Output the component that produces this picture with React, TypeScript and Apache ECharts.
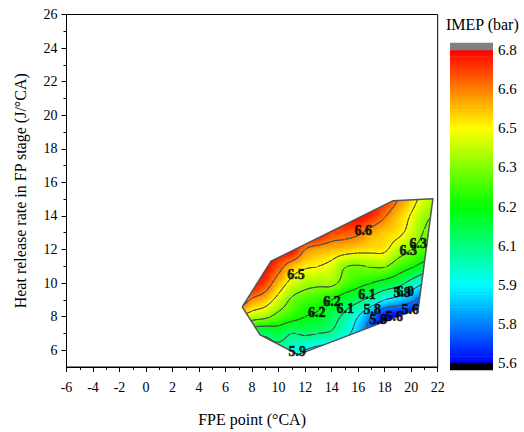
import React, { useEffect, useRef } from "react";
import * as echarts from "echarts";

// ---- measured grid (FPE point x, HRR y) ----
const gridX = [7, 8, 9, 10, 11, 12, 13, 14, 15, 16, 17, 18, 19, 20, 21, 22];
const gridY = [5, 6, 7, 8, 9, 10, 11, 12, 13, 14, 15];
const imepY5 = [6.0, 5.98, 5.96, 5.94, 5.92, 5.86, 5.82, 5.8, 5.75, 5.68, 5.62, 5.6, 5.6, 5.6, 5.6, 5.6];
const imepY6 = [6.1, 6.02, 6.0, 6.0, 5.96, 5.9, 5.86, 5.83, 5.78, 5.7, 5.64, 5.6, 5.6, 5.6, 5.6, 5.6];
const imepY7 = [6.3, 6.1, 6.08, 6.12, 6.05, 6.07, 6.05, 6.03, 5.95, 5.82, 5.68, 5.6, 5.6, 5.6, 5.6, 5.6];
const imepY8 = [6.5, 6.42, 6.38, 6.3, 6.25, 6.2, 6.17, 6.1, 6.02, 5.9, 5.75, 5.62, 5.6, 5.6, 5.6, 5.6];
const imepY9 = [6.75, 6.63, 6.57, 6.45, 6.33, 6.28, 6.25, 6.2, 6.13, 6.08, 6.0, 5.9, 5.85, 5.78, 5.68, 5.62];
const imepY10 = [6.8, 6.8, 6.72, 6.58, 6.46, 6.4, 6.38, 6.38, 6.3, 6.24, 6.2, 6.15, 6.1, 6.0, 5.9, 5.85];
const imepY11 = [6.8, 6.8, 6.8, 6.7, 6.58, 6.52, 6.5, 6.46, 6.36, 6.34, 6.36, 6.36, 6.28, 6.22, 6.15, 6.1];
const imepY12 = [6.8, 6.8, 6.8, 6.8, 6.8, 6.65, 6.6, 6.58, 6.56, 6.54, 6.53, 6.52, 6.42, 6.35, 6.28, 6.22];
const imepY13 = [6.8, 6.8, 6.8, 6.8, 6.8, 6.8, 6.8, 6.72, 6.7, 6.67, 6.6, 6.56, 6.53, 6.45, 6.34, 6.3];
const imepY14 = [6.8, 6.8, 6.8, 6.8, 6.8, 6.8, 6.8, 6.8, 6.8, 6.8, 6.75, 6.66, 6.57, 6.49, 6.38, 6.34];
const imepY15 = [6.8, 6.8, 6.8, 6.8, 6.8, 6.8, 6.8, 6.8, 6.8, 6.8, 6.8, 6.75, 6.65, 6.55, 6.45, 6.4];
const imepRows = [imepY5, imepY6, imepY7, imepY8, imepY9, imepY10, imepY11, imepY12, imepY13, imepY14, imepY15];

// measured domain (convex hull of operating points)
const hullX = [7.25, 9.43, 18.64, 21.64, 20.53, 11.47, 8.6];
const hullY = [8.58, 11.3, 14.91, 15.03, 8.46, 5.74, 6.92];

// contour levels and labels
const contourLevels = [5.75, 5.9, 6.05, 6.2, 6.35, 6.5, 6.65];
const labelText = ["6.6", "6.5", "6.3", "6.3", "6.2", "6.2", "6.1", "6.1", "5.9", "6.0", "5.8", "5.6", "5.8", "5.6", "5.9"];
const labelX = [16.38, 11.32, 19.77, 20.53, 12.88, 14.02, 15.02, 16.66, 19.32, 19.55, 17.06, 19.92, 17.51, 18.72, 11.4];
const labelY = [13.14, 10.53, 11.95, 12.37, 8.22, 8.92, 8.49, 9.29, 9.41, 9.47, 8.4, 8.43, 7.81, 7.99, 5.92];

// colour scale
const barTicks = [5.6, 5.75, 5.9, 6.05, 6.2, 6.35, 6.5, 6.65, 6.8];
const barTickLabels = ["5.6", "5.8", "5.9", "6.1", "6.2", "6.3", "6.5", "6.6", "6.8"];
const IMEP_MIN = 5.6;
const IMEP_MAX = 6.8;
const N_BANDS = 96;

const yMajor = [6, 8, 10, 12, 14, 16, 18, 20, 22, 24, 26];
const yMinor = [7, 9, 11, 13, 15, 17, 19, 21, 23, 25];

const FONT = "'Liberation Serif', 'Times New Roman', serif";

function rainbow(f: number): string {
  f = Math.max(0, Math.min(1, f));
  const stops = [
    [0, 0, 255],
    [0, 255, 255],
    [0, 255, 0],
    [255, 255, 0],
    [255, 0, 0],
  ];
  const s = f * 4;
  const k = Math.min(3, Math.floor(s));
  const t = s - k;
  const a = stops[k], b = stops[k + 1];
  const c = a.map((v, i) => Math.round(v + (b[i] - v) * t));
  return `rgb(${c[0]},${c[1]},${c[2]})`;
}
const bandColors: string[] = [];
for (let b = 0; b < N_BANDS; b++) bandColors.push(rainbow((b + 0.5) / N_BANDS));
function bandOf(v: number) {
  let b = Math.floor(((v - IMEP_MIN) / (IMEP_MAX - IMEP_MIN)) * N_BANDS);
  return Math.max(0, Math.min(N_BANDS - 1, b));
}

function cr(p0: number, p1: number, p2: number, p3: number, t: number) {
  return 0.5 * (2 * p1 + (-p0 + p2) * t + (2 * p0 - 5 * p1 + 4 * p2 - p3) * t * t + (-p0 + 3 * p1 - 3 * p2 + p3) * t * t * t);
}
function field(x: number, y: number) {
  const nx = gridX.length, ny = gridY.length;
  const fx = (x - gridX[0]) / (gridX[1] - gridX[0]);
  const fy = (y - gridY[0]) / (gridY[1] - gridY[0]);
  const i = Math.max(0, Math.min(nx - 2, Math.floor(fx)));
  const j = Math.max(0, Math.min(ny - 2, Math.floor(fy)));
  const tx = fx - i, ty = fy - j;
  const g = (a: number, b: number) => imepRows[Math.max(0, Math.min(ny - 1, b))][Math.max(0, Math.min(nx - 1, a))];
  const r: number[] = [];
  for (let m = -1; m <= 2; m++) r.push(cr(g(i - 1, j + m), g(i, j + m), g(i + 1, j + m), g(i + 2, j + m), tx));
  return cr(r[0], r[1], r[2], r[3], ty);
}

function signedArea(P: number[][]) {
  let s = 0;
  for (let i = 0; i < P.length; i++) {
    const a = P[i], b = P[(i + 1) % P.length];
    s += a[0] * b[1] - b[0] * a[1];
  }
  return s / 2;
}
function clipConvex(subject: number[][], clip: number[][], orient: number) {
  let out = subject;
  for (let e = 0; e < clip.length; e++) {
    const A = clip[e], B = clip[(e + 1) % clip.length];
    const inp = out;
    out = [];
    if (!inp.length) break;
    const side = (P: number[]) => orient * ((B[0] - A[0]) * (P[1] - A[1]) - (B[1] - A[1]) * (P[0] - A[0]));
    for (let k = 0; k < inp.length; k++) {
      const P = inp[k], Q = inp[(k + 1) % inp.length];
      const sp = side(P), sq = side(Q);
      if (sp >= 0) out.push(P);
      if ((sp >= 0) !== (sq >= 0)) {
        const t = sp / (sp - sq);
        out.push([P[0] + (Q[0] - P[0]) * t, P[1] + (Q[1] - P[1]) * t]);
      }
    }
  }
  return out;
}
function insideConvex(P: number[], clip: number[][], orient: number) {
  for (let e = 0; e < clip.length; e++) {
    const A = clip[e], B = clip[(e + 1) % clip.length];
    if (orient * ((B[0] - A[0]) * (P[1] - A[1]) - (B[1] - A[1]) * (P[0] - A[0])) < 0) return false;
  }
  return true;
}

const hMinX = Math.min(...hullX), hMaxX = Math.max(...hullX);
const hMinY = Math.min(...hullY), hMaxY = Math.max(...hullY);

const cellData: number[][] = [];
for (let j = 0; j < gridY.length - 1; j++)
  for (let i = 0; i < gridX.length - 1; i++) cellData.push([gridX[i], gridY[j], gridX[i + 1], gridY[j + 1]]);

function renderCell(params: any, api: any) {
  const x0 = api.value(0), y0 = api.value(1), x1 = api.value(2), y1 = api.value(3);
  if (x1 < hMinX || x0 > hMaxX || y1 < hMinY || y0 > hMaxY) return { type: "group", children: [] };
  const hullPx = hullX.map((hx, k) => api.coord([hx, hullY[k]]));
  const orient = Math.sign(signedArea(hullPx));
  const N = 10;
  const vals: number[][] = [];
  for (let a = 0; a <= N; a++) {
    const col: number[] = [];
    for (let b = 0; b <= N; b++) col.push(field(x0 + ((x1 - x0) * a) / N, y0 + ((y1 - y0) * b) / N));
    vals.push(col);
  }
  const p0 = api.coord([x0, y0]), p1 = api.coord([x1, y1]);
  const px = (a: number) => p0[0] + ((p1[0] - p0[0]) * a) / N;
  const py = (b: number) => p0[1] + ((p1[1] - p0[1]) * b) / N;
  const children: any[] = [];
  const pad = 0.35;
  for (let b = 0; b < N; b++) {
    let runStart = 0;
    let runBand = -1;
    const flush = (aEnd: number) => {
      if (runBand < 0) return;
      const xa = px(runStart) - pad, xb = px(aEnd) + pad;
      const ya = Math.min(py(b), py(b + 1)) - pad, yb = Math.max(py(b), py(b + 1)) + pad;
      const poly = clipConvex([[xa, ya], [xb, ya], [xb, yb], [xa, yb]], hullPx, orient);
      if (poly.length >= 3)
        children.push({ type: "polygon", shape: { points: poly }, style: { fill: bandColors[runBand] }, silent: true });
    };
    for (let a = 0; a < N; a++) {
      const v = (vals[a][b] + vals[a + 1][b] + vals[a][b + 1] + vals[a + 1][b + 1]) / 4;
      const bd = bandOf(v);
      if (bd !== runBand) {
        flush(a);
        runStart = a;
        runBand = bd;
      }
    }
    flush(N);
  }
  // contour lines (marching squares)
  for (const L of contourLevels) {
    for (let a = 0; a < N; a++) {
      for (let b = 0; b < N; b++) {
        const c = [
          [a, b],
          [a + 1, b],
          [a + 1, b + 1],
          [a, b + 1],
        ];
        const v = c.map((q) => vals[q[0]][q[1]]);
        const pts: (number[] | null)[] = [];
        let cnt = 0;
        for (let e = 0; e < 4; e++) {
          const va = v[e], vb = v[(e + 1) % 4];
          if ((va >= L) !== (vb >= L)) {
            const t = (L - va) / (vb - va);
            const qa = c[e], qb = c[(e + 1) % 4];
            const ga = qa[0] + (qb[0] - qa[0]) * t, gb = qa[1] + (qb[1] - qa[1]) * t;
            pts.push([px(ga), py(gb)]);
            cnt++;
          } else pts.push(null);
        }
        const segs: number[][][] = [];
        if (cnt === 2) {
          const s = pts.filter((p) => p) as number[][];
          segs.push(s);
        } else if (cnt === 4) {
          const center = (v[0] + v[1] + v[2] + v[3]) / 4;
          const diag00 = v[0] >= L;
          if ((center >= L) === diag00) {
            segs.push([pts[0]!, pts[1]!], [pts[2]!, pts[3]!]);
          } else {
            segs.push([pts[0]!, pts[3]!], [pts[1]!, pts[2]!]);
          }
        }
        for (const s of segs) {
          const mid = [(s[0][0] + s[1][0]) / 2, (s[0][1] + s[1][1]) / 2];
          if (!insideConvex(mid, hullPx, orient)) continue;
          children.push({
            type: "line",
            shape: { x1: s[0][0], y1: s[0][1], x2: s[1][0], y2: s[1][1] },
            style: { stroke: "#4a4a4a", lineWidth: 1, lineCap: "round" },
            silent: true,
          });
        }
      }
    }
  }
  return { type: "group", children };
}

const barData: any[] = [];
for (let b = 0; b < N_BANDS; b++) {
  const lo = IMEP_MIN + ((IMEP_MAX - IMEP_MIN) * b) / N_BANDS;
  const hi = IMEP_MIN + ((IMEP_MAX - IMEP_MIN) * (b + 1)) / N_BANDS;
  barData.push([lo, hi, b]);
}
const BAR_EXT = 0.027;
barData.push([IMEP_MAX, IMEP_MAX + BAR_EXT, -1]);
barData.push([IMEP_MIN - BAR_EXT, IMEP_MIN, -2]);

function renderBar(params: any, api: any) {
  const lo = api.value(0), hi = api.value(1), b = api.value(2);
  const pa = api.coord([0, hi]);
  const pb = api.coord([1, lo]);
  const fill = b === -1 ? "#808080" : b === -2 ? "#000000" : bandColors[b];
  return {
    type: "rect",
    shape: { x: pa[0], y: pa[1] - 0.3, width: pb[0] - pa[0], height: pb[1] - pa[1] + 0.6 },
    style: { fill },
    silent: true,
  };
}

export default function App() {
  const ref = useRef<HTMLDivElement>(null);
  useEffect(() => {
    if (!ref.current) return;
    const chart = echarts.init(ref.current, null, { renderer: "svg" });
    const axisText = { fontFamily: FONT, fontSize: 14, color: "#000" };
    chart.setOption({
      animation: false,
      backgroundColor: "#fff",
      textStyle: { fontFamily: FONT },
      title: {
        text: "IMEP (bar)",
        left: 446,
        top: 16,
        padding: 0,
        textStyle: { fontFamily: FONT, fontSize: 16, fontWeight: "normal", color: "#000" },
      },
      grid: [
        { left: 66.5, top: 14.5, width: 371.2, height: 355, show: true, borderColor: "#000", borderWidth: 1, containLabel: false },
        { left: 450, top: 43, width: 43, height: 327, containLabel: false },
      ],
      xAxis: [
        {
          type: "value",
          gridIndex: 0,
          min: -6,
          max: 22,
          interval: 2,
          name: "FPE point (°CA)",
          nameLocation: "middle",
          nameGap: 44,
          nameTextStyle: { fontFamily: FONT, fontSize: 16, color: "#000" },
          axisLine: { show: true, onZero: false, lineStyle: { color: "#000", width: 1 } },
          axisTick: { show: true, length: 5, lineStyle: { color: "#000" } },
          minorTick: { show: true, splitNumber: 2, length: 3, lineStyle: { color: "#000" } },
          axisLabel: { ...axisText, margin: 13 },
          splitLine: { show: false },
        },
        { type: "value", gridIndex: 1, min: 0, max: 1, show: false },
      ],
      yAxis: [
        {
          type: "value",
          gridIndex: 0,
          min: 5,
          max: 26,
          name: "Heat release rate in FP stage (J/°CA)",
          nameLocation: "middle",
          nameGap: 38,
          nameTextStyle: { fontFamily: FONT, fontSize: 16, color: "#000" },
          axisLine: { show: true, onZero: false, lineStyle: { color: "#000", width: 1 } },
          axisTick: { show: true, length: 5, customValues: yMajor, lineStyle: { color: "#000" } },
          axisLabel: { ...axisText, margin: 9, customValues: yMajor },
          splitLine: { show: false },
        },
        {
          type: "value",
          gridIndex: 0,
          min: 5,
          max: 26,
          position: "left",
          axisLine: { show: false, onZero: false },
          axisTick: { show: true, length: 3, customValues: yMinor, lineStyle: { color: "#000" } },
          axisLabel: { show: false },
          splitLine: { show: false },
        },
        {
          type: "value",
          gridIndex: 1,
          min: IMEP_MIN - BAR_EXT,
          max: IMEP_MAX + BAR_EXT,
          position: "right",
          axisLine: { show: false, onZero: false },
          axisTick: { show: false },
          splitLine: { show: false },
          axisLabel: {
            fontFamily: FONT,
            fontSize: 15,
            color: "#000",
            margin: 5,
            customValues: barTicks,
            formatter: (v: number) => {
              let best = 0;
              for (let k = 1; k < barTicks.length; k++) if (Math.abs(barTicks[k] - v) < Math.abs(barTicks[best] - v)) best = k;
              return barTickLabels[best];
            },
          },
        },
      ],
      series: [
        {
          type: "custom",
          xAxisIndex: 0,
          yAxisIndex: 0,
          data: cellData,
          encode: { x: [0, 2], y: [1, 3] },
          renderItem: renderCell,
          silent: true,
          z: 2,
        },
        {
          type: "line",
          xAxisIndex: 0,
          yAxisIndex: 0,
          data: [...hullX.map((x, k) => [x, hullY[k]]), [hullX[0], hullY[0]]],
          symbol: "none",
          lineStyle: { color: "#555", width: 1.5 },
          silent: true,
          z: 3,
        },
        {
          type: "scatter",
          xAxisIndex: 0,
          yAxisIndex: 0,
          symbolSize: 2,
          itemStyle: { color: "rgba(0,0,0,0)" },
          data: labelX.map((x, k) => ({ value: [x, labelY[k]], name: labelText[k] })),
          labelLayout: { hideOverlap: false },
          label: {
            show: true,
            position: "inside",
            formatter: (p: any) => p.name,
            fontFamily: FONT,
            fontWeight: "bold",
            fontSize: 14,
            color: "#000",
            textBorderColor: "#000",
            textBorderWidth: 0.6,
          },
          silent: true,
          z: 5,
        },
        {
          type: "custom",
          xAxisIndex: 1,
          yAxisIndex: 2,
          data: barData,
          encode: { y: [0, 1] },
          renderItem: renderBar,
          silent: true,
        },
      ],
    });
    return () => chart.dispose();
  }, []);
  return <div ref={ref} style={{ position: "fixed", left: 0, top: 0, width: 524, height: 432 }} />;
}
